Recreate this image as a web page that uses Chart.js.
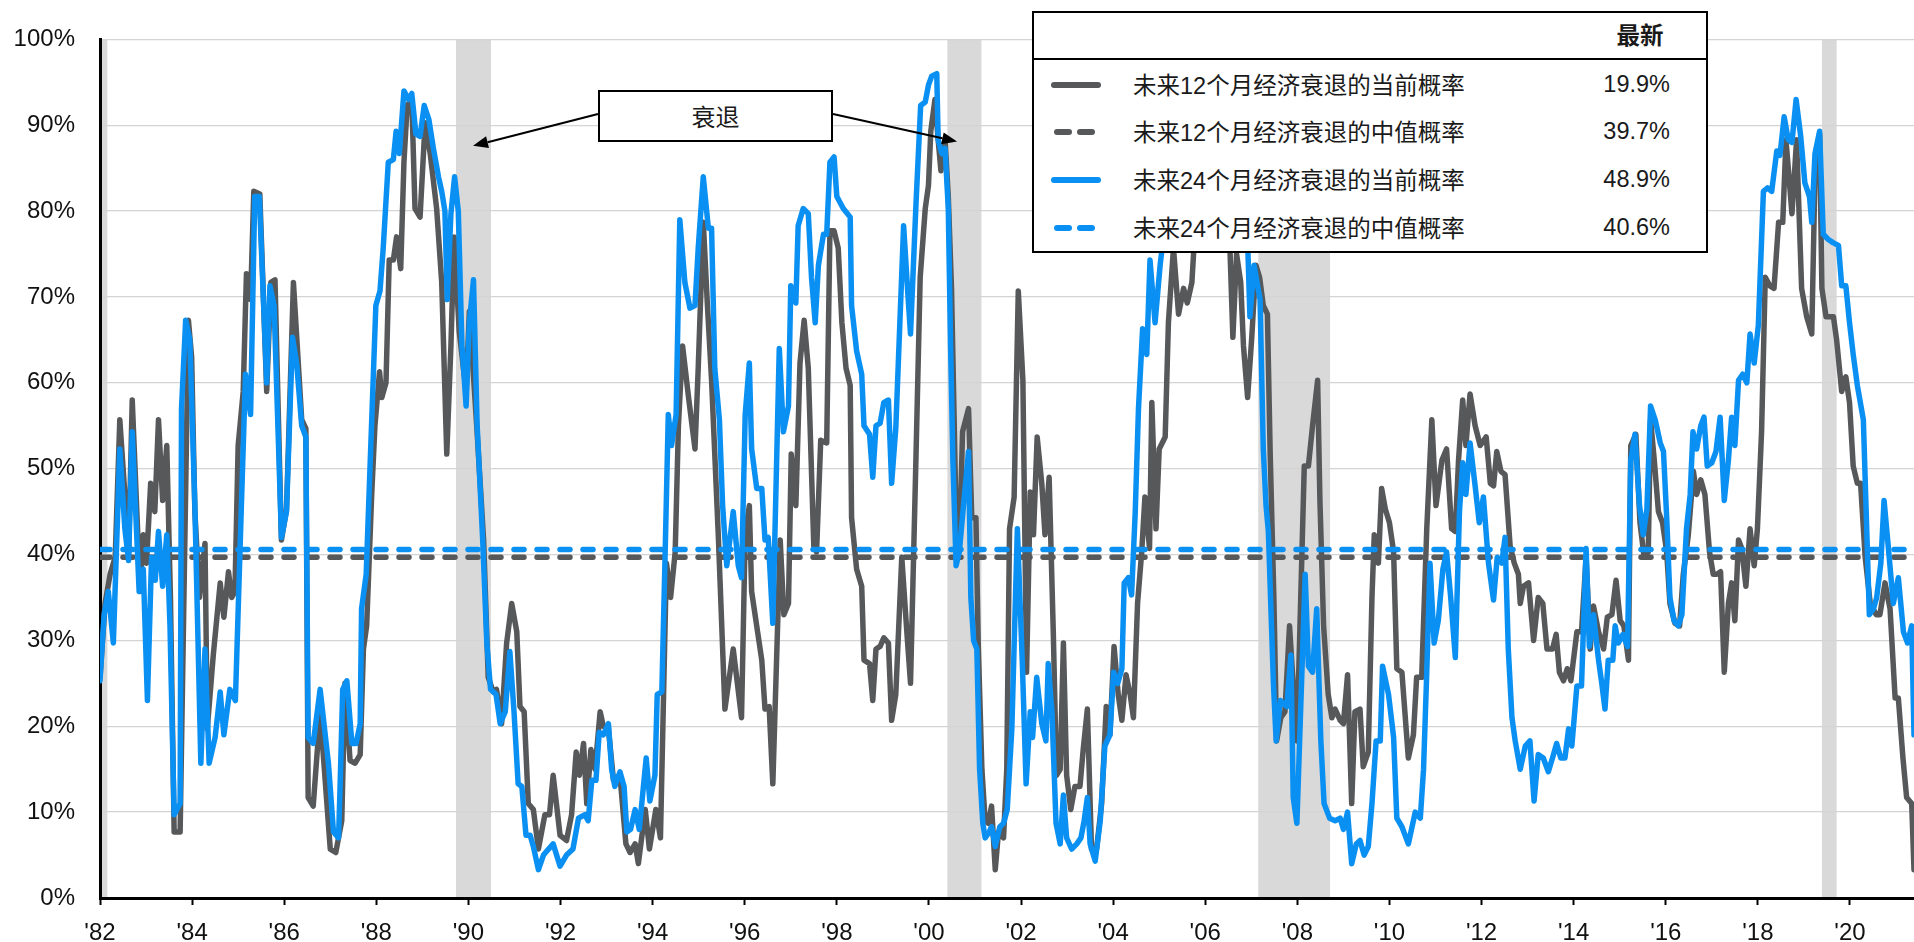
<!DOCTYPE html>
<html lang="zh">
<head>
<meta charset="utf-8">
<title>经济衰退概率</title>
<script src="https://cdn.jsdelivr.net/npm/chart.js@4.4.1/dist/chart.umd.min.js"></script>
<style>
  body { margin: 0; background: #fff; }
  #wrap { position: relative; width: 1914px; height: 942px; }
  #legend {
    position: absolute; left: 1032px; top: 11px; width: 672px; height: 238px;
    border: 2px solid #000; background: #fff; color: #1a1a1a;
    font-family: "Liberation Sans", "Noto Sans CJK SC", sans-serif; font-size: 23.5px;
  }
  #legend .head { position: absolute; left: 0; top: 0; width: 100%; height: 45px; border-bottom: 2px solid #000; }
  #legend .head span { position: absolute; left: 582px; top: 4px; width: 48px; text-align: center; font-weight: bold; }
  #legend .row { position: absolute; left: 0; width: 100%; height: 30px; }
  #legend .row .name { position: absolute; left: 99px; top: -3px; white-space: nowrap; }
  #legend .row .val { position: absolute; right: 36px; top: 1px; }
  #legend .sw { position: absolute; top: 12px; height: 6px; border-radius: 3px; }
  #tag {
    position: absolute; left: 598px; top: 90px; width: 231px; height: 48px;
    border: 2px solid #000; background: #fff; color: #1a1a1a;
    font-family: "Noto Sans CJK SC", sans-serif; font-size: 24px;
    text-align: center; line-height: 48px;
  }
</style>
</head>
<body>
<div id="wrap">
  <canvas id="recessionChart" width="1914" height="942"></canvas>
  <div id="tag">衰退</div>
  <div id="legend"><div class="head"><span>最新</span></div></div>
</div>
<script>
const baseYear = 1982;
const lastYear = 2021.39;
const tickYears = [1982, 1984, 1986, 1988, 1990, 1992, 1994, 1996, 1998, 2000,
  2002, 2004, 2006, 2008, 2010, 2012, 2014, 2016, 2018, 2020];

// recession shading, in years after '82
const recessions = [[0, 0.16], [7.73, 8.49], [18.40, 19.14], [25.15, 26.71], [37.39, 37.71]];
// where the two arrows from the "衰退" box point (years after '82, %)
const arrowTargets = [[8.10, 87.6], [18.61, 88.1]];

const seriesNames = ['未来12个月经济衰退的当前概率', '未来12个月经济衰退的中值概率',
  '未来24个月经济衰退的当前概率', '未来24个月经济衰退的中值概率'];
const latestValues = ['19.9%', '39.7%', '48.9%', '40.6%'];
const median12 = 39.7;
const median24 = 40.6;

const gray = '#57585a';
const blue = '#0a90f2';

// [years after '82, probability %]
const current12 = [
  [0,25.7],[0.11,34.3],[0.22,37.7],[0.33,39.7],[0.43,55.7],[0.54,47],[0.62,39.7],[0.70,58],[0.80,45],[0.87,35.7],
  [0.94,42.3],[1.01,39],[1.10,48.3],[1.19,45],[1.27,55.7],[1.36,46.3],[1.45,52.7],[1.53,35],[1.61,7.7],[1.74,7.7],
  [1.92,67.3],[1.99,63],[2.06,45],[2.16,35],[2.28,41.3],[2.33,19.7],[2.46,28.3],[2.61,36.7],[2.69,32.7],[2.79,38],
  [2.86,35],[2.93,35.7],[3.00,52.7],[3.11,59],[3.18,72.7],[3.27,69.7],[3.34,82.3],[3.47,82],[3.62,59],[3.71,71.7],
  [3.80,72],[3.94,41.7],[4.05,45.3],[4.20,71.7],[4.38,55.7],[4.47,54.7],[4.52,11.7],[4.63,10.7],[4.78,21.7],[5.00,5.7],
  [5.12,5.3],[5.25,9],[5.32,25],[5.43,16],[5.54,15.7],[5.65,16.7],[5.72,29],[5.79,31.7],[5.90,47],[5.97,55],
  [6.07,61.3],[6.12,58.3],[6.21,60],[6.28,74.3],[6.37,74.3],[6.44,77],[6.53,73.3],[6.60,85.7],[6.67,92.3],[6.77,93],
  [6.84,80.3],[6.95,79.3],[7.06,90.3],[7.17,86.7],[7.31,80.3],[7.42,71.7],[7.53,51.7],[7.62,64.3],[7.69,77],[7.80,66],
  [7.95,59],[8.02,68.3],[8.18,55],[8.33,41.7],[8.43,25.7],[8.54,24],[8.61,24.3],[8.72,20.3],[8.83,29.7],[8.94,34.3],
  [9.05,31],[9.12,22.3],[9.21,21.7],[9.30,11],[9.41,10.3],[9.52,5.7],[9.66,9.7],[9.76,9.7],[9.84,14.3],[9.99,7.3],
  [10.13,6.7],[10.24,9.7],[10.34,17],[10.41,14.3],[10.50,18],[10.57,11],[10.66,17.3],[10.75,15],[10.86,21.7],[10.93,20],
  [11.04,19.7],[11.15,13.7],[11.29,14.3],[11.42,6.3],[11.51,5.3],[11.62,6.3],[11.69,4],[11.84,10.3],[11.93,5.7],[12.07,10.3],
  [12.17,7],[12.30,39],[12.39,35],[12.49,40.3],[12.56,55],[12.65,64.3],[12.78,58.3],[12.92,52.3],[12.99,61.7],[13.10,78.7],
  [13.19,69],[13.28,60.3],[13.43,41.7],[13.57,22],[13.75,29],[13.93,21],[14.01,42.3],[14.10,45.7],[14.15,35.7],[14.26,31.7],
  [14.37,27.7],[14.44,22],[14.53,22.3],[14.61,13.3],[14.77,41.7],[14.85,33],[14.95,34.3],[15.01,51.7],[15.11,45.7],[15.20,62.3],
  [15.29,67.3],[15.38,61.7],[15.50,41],[15.56,40.3],[15.65,53.3],[15.78,53],[15.85,77.7],[15.94,77.7],[16.03,75.7],[16.11,67],
  [16.20,61.7],[16.29,59.7],[16.32,44.3],[16.43,38.3],[16.54,36.3],[16.59,27.7],[16.71,27.3],[16.78,23],[16.85,29],[16.94,29.3],
  [17.02,30.3],[17.12,29.7],[17.19,20.7],[17.28,23.7],[17.41,39.7],[17.52,31],[17.60,25],[17.72,51.7],[17.81,72.3],[17.92,80.3],
  [17.99,83],[18.04,89.3],[18.13,93],[18.20,88.3],[18.26,84.7],[18.35,88.3],[18.42,81.7],[18.49,71],[18.55,55],[18.60,41],
  [18.68,44.3],[18.73,54.3],[18.86,57],[18.93,44.3],[19.02,44.3],[19.07,29.7],[19.15,15],[19.22,9],[19.29,8.7],[19.36,10.7],
  [19.44,3.3],[19.51,7.7],[19.62,7],[19.69,15],[19.75,43],[19.85,46.7],[19.94,70.7],[20.04,60.3],[20.12,26.3],[20.20,47.3],
  [20.27,42.3],[20.35,53.7],[20.45,48.3],[20.52,42.3],[20.61,49],[20.70,31],[20.77,14.3],[20.85,15],[20.92,29.7],[20.99,14.3],
  [21.08,10.3],[21.17,13],[21.28,13],[21.35,17.3],[21.44,22],[21.53,5.7],[21.64,5.7],[21.75,11],[21.85,22.3],[21.93,19],
  [22.02,29.3],[22.11,23.7],[22.19,20.7],[22.28,26],[22.37,23.7],[22.44,21],[22.53,34.3],[22.62,40.3],[22.69,46.7],[22.79,40.7],
  [22.84,57.7],[22.93,43],[23.00,52.3],[23.13,53.7],[23.20,67],[23.31,75.7],[23.42,68],[23.53,71],[23.61,69.3],[23.71,71.7],
  [23.76,76.3],[23.90,82],[24.10,86],[24.30,80],[24.45,84],[24.54,75],[24.60,65.3],[24.68,75],[24.77,71.7],[24.83,64.3],
  [24.92,58.3],[25.01,65.3],[25.10,73.7],[25.18,72.3],[25.26,69],[25.35,68],[25.41,51.7],[25.49,35],[25.55,18.3],[25.64,21],
  [25.73,21.7],[25.83,31.7],[25.90,25.7],[25.99,18.3],[26.15,50.3],[26.24,50.3],[26.33,55],[26.44,60.3],[26.49,46.3],[26.57,31.7],
  [26.67,23.7],[26.75,21],[26.82,22],[26.93,20.7],[27.00,20.3],[27.09,26],[27.18,11],[27.25,21.7],[27.36,22],[27.43,15.3],
  [27.54,17],[27.62,35],[27.67,42.3],[27.76,39],[27.83,47.7],[27.91,45.3],[28.00,43.7],[28.09,40.3],[28.16,26.7],[28.27,26.3],
  [28.41,16.3],[28.52,19],[28.59,25.7],[28.70,25.7],[28.81,43],[28.92,55.7],[29.01,45.7],[29.14,51],[29.24,52.3],[29.35,43],
  [29.43,42.7],[29.50,51],[29.59,58],[29.66,52.7],[29.75,58.7],[29.86,55],[29.97,52.7],[30.10,53.7],[30.19,48.3],[30.26,48],
  [30.33,52],[30.42,49.7],[30.51,49.3],[30.62,41],[30.71,39],[30.80,37.7],[30.84,34.3],[30.91,36.3],[31.02,36.7],[31.13,30],
  [31.23,35],[31.33,34.3],[31.42,29],[31.54,29],[31.62,30.7],[31.69,26.3],[31.78,25.3],[31.86,26.7],[31.94,25.3],[32.07,31],
  [32.17,31],[32.27,39.7],[32.36,29],[32.43,34],[32.54,31],[32.65,29],[32.73,32.7],[32.83,33],[32.92,37],[33.01,32.3],
  [33.09,31.7],[33.19,27.7],[33.24,52.7],[33.35,54],[33.44,43.7],[33.53,39.7],[33.62,40.3],[33.67,55.7],[33.75,51],[33.84,45],
  [33.93,43.7],[34.02,40.3],[34.09,34.3],[34.20,32],[34.30,31.7],[34.38,37.7],[34.49,42.3],[34.60,49.7],[34.67,47],[34.76,48.7],
  [34.85,47],[34.95,40.3],[35.03,37.7],[35.11,37.7],[35.19,38],[35.27,26.3],[35.36,34.3],[35.43,36.7],[35.50,32.3],[35.58,41.7],
  [35.65,40.7],[35.74,36.3],[35.83,43],[35.92,38.7],[35.99,43],[36.08,54.3],[36.16,72.3],[36.26,71.3],[36.35,71],[36.45,78.7],
  [36.54,78.7],[36.61,88.3],[36.66,85],[36.74,79.7],[36.84,88.3],[36.95,71],[37.06,67.7],[37.17,65.7],[37.24,84.3],[37.34,89],
  [37.39,71],[37.48,67.7],[37.64,67.7],[37.71,65],[37.82,59],[37.91,60.7],[37.99,57.7],[38.07,50.3],[38.16,48.3],[38.23,48.3],
  [38.33,39.7],[38.44,34.3],[38.57,33],[38.65,33],[38.76,36.7],[38.87,33.7],[38.98,23.3],[39.05,23.3],[39.15,16.3],[39.23,11.7],
  [39.34,11],[39.39,3.3]
];

const current24 = [
  [0,25.3],[0.09,33],[0.18,35.7],[0.29,29.7],[0.43,52.3],[0.54,43],[0.62,39.3],[0.70,54.3],[0.85,35.7],[0.94,38.3],
  [1.03,23],[1.12,39.7],[1.20,37],[1.27,42.7],[1.36,36.3],[1.45,42.3],[1.52,31.7],[1.61,9.7],[1.74,11],[1.77,57],
  [1.86,67.3],[1.95,65],[2.06,45.7],[2.19,15.7],[2.28,29],[2.37,15.7],[2.50,18.7],[2.61,24],[2.69,19],[2.82,24.3],
  [2.94,23],[3.07,45.7],[3.16,61],[3.27,56.3],[3.36,81.7],[3.46,81.7],[3.62,60],[3.69,71.3],[3.78,69],[3.94,42],
  [4.05,45],[4.18,65.3],[4.27,62.3],[4.38,55],[4.47,53.7],[4.52,18.7],[4.63,18],[4.78,24.3],[4.96,15.7],[5.07,7.7],
  [5.18,7],[5.21,12.3],[5.27,24.3],[5.36,25.3],[5.47,18],[5.56,18],[5.65,20.3],[5.68,33.7],[5.78,37.7],[5.86,49.7],
  [5.99,69],[6.08,70.7],[6.15,75.7],[6.26,85.7],[6.37,86],[6.43,89.3],[6.50,86.7],[6.60,94],[6.70,93],[6.77,93.7],
  [6.86,89],[6.95,88.7],[7.04,92.3],[7.14,90.7],[7.24,87.3],[7.35,84],[7.42,82.3],[7.49,80],[7.54,69.7],[7.62,79.7],
  [7.70,84],[7.78,80],[7.86,64.3],[7.95,57.3],[8.02,67],[8.11,72],[8.19,55],[8.31,41.7],[8.40,29.7],[8.48,24.3],
  [8.60,23.7],[8.69,20.3],[8.80,21.7],[8.90,28.7],[8.99,21.7],[9.08,13.3],[9.16,13],[9.25,7.3],[9.34,7.3],[9.41,6],
  [9.52,3.3],[9.63,5],[9.74,5.7],[9.84,6.3],[9.99,3.7],[10.13,5],[10.27,5.7],[10.39,9.3],[10.53,9.7],[10.60,9],
  [10.68,13.7],[10.77,13.7],[10.84,19.3],[10.93,19],[11.04,20.3],[11.11,15],[11.18,13],[11.29,14.7],[11.38,13],[11.44,7.7],
  [11.52,8],[11.62,10.3],[11.71,8],[11.86,16.3],[11.94,11.3],[12.05,14.3],[12.10,23.7],[12.20,24],[12.27,39.7],[12.34,56.3],
  [12.41,52.7],[12.51,56.3],[12.59,79],[12.70,71.7],[12.81,68.7],[12.92,69],[12.99,75.7],[13.10,84],[13.21,78],[13.28,78],
  [13.35,61.7],[13.45,55.7],[13.52,45.7],[13.61,38.7],[13.75,45],[13.86,38.7],[13.93,37.3],[14.01,56.3],[14.10,62.3],[14.15,52.3],
  [14.26,47.7],[14.37,47.7],[14.44,41.7],[14.51,42],[14.61,32],[14.75,64],[14.84,54.3],[14.95,57.3],[15.00,71.3],[15.11,69.3],
  [15.16,78.3],[15.27,80.3],[15.38,79.7],[15.45,72.3],[15.53,67],[15.60,73.7],[15.71,77.3],[15.78,77.3],[15.85,85.7],[15.94,86.3],
  [16.00,81.7],[16.14,80.3],[16.29,79.3],[16.32,69],[16.43,63.7],[16.54,61],[16.59,55],[16.71,54],[16.78,49],[16.85,55],
  [16.94,55.3],[17.02,57.7],[17.12,58],[17.19,48.3],[17.28,54.7],[17.45,78.3],[17.55,69.7],[17.60,65.7],[17.72,81],[17.82,92.3],
  [17.92,92.7],[17.99,94.7],[18.06,95.7],[18.17,96],[18.20,88.3],[18.28,86.7],[18.35,87.3],[18.42,80.3],[18.47,64.3],[18.52,51],
  [18.59,38.7],[18.66,40.3],[18.75,45.7],[18.86,52],[18.91,35],[18.97,30],[19.04,29],[19.10,15],[19.17,8.7],[19.22,7],
  [19.31,7.7],[19.36,8.3],[19.44,6],[19.54,8.3],[19.62,8.7],[19.70,10.3],[19.80,19.7],[19.92,43],[20.03,27],[20.11,13.3],
  [20.20,21.7],[20.25,18.7],[20.34,25.7],[20.45,20.3],[20.54,18.3],[20.59,27.3],[20.67,21.7],[20.76,8.7],[20.85,6.3],[20.92,12],
  [20.99,7],[21.10,5.7],[21.21,6.3],[21.30,7],[21.37,9],[21.44,11.7],[21.50,6.3],[21.61,4.3],[21.72,9],[21.82,17.7],
  [21.93,19],[22.01,26.3],[22.10,25],[22.19,26.7],[22.24,36.7],[22.33,37.3],[22.40,35.3],[22.48,45],[22.55,57],[22.64,66.3],
  [22.73,63.3],[22.80,74.3],[22.91,67],[23.02,73.7],[23.20,82],[23.50,86],[23.80,90],[24.10,88],[24.40,92],[24.70,85],
  [24.90,80],[24.97,67.7],[25.06,73.7],[25.19,69.7],[25.26,52.3],[25.32,45.7],[25.37,42.7],[25.48,25],[25.54,18.3],[25.63,23],
  [25.77,22.3],[25.86,28.3],[25.91,11.7],[25.99,8.7],[26.07,21.7],[26.17,37.7],[26.24,27],[26.33,26.3],[26.42,33.7],[26.51,18.3],
  [26.58,11],[26.70,9.3],[26.82,9],[26.93,9.3],[27.00,8],[27.09,10],[27.18,4],[27.28,6.3],[27.36,6.7],[27.45,5],
  [27.54,6],[27.62,11],[27.71,18.3],[27.80,18.3],[27.85,27],[27.98,23.7],[28.09,18.7],[28.16,9.3],[28.27,8.3],[28.41,6.3],
  [28.56,10],[28.67,9.3],[28.74,15],[28.81,26.3],[28.88,39],[28.97,29.7],[29.06,32.3],[29.16,38.3],[29.24,40.3],[29.33,35],
  [29.43,28],[29.52,45],[29.59,50.7],[29.66,47],[29.75,53],[29.86,48],[29.95,43.7],[30.04,46.7],[30.15,39],[30.26,34.7],
  [30.34,39.7],[30.44,39],[30.51,42],[30.58,29],[30.66,21],[30.73,18.3],[30.84,15],[30.95,17.7],[31.05,18.3],[31.14,11.3],
  [31.23,16.7],[31.34,16.3],[31.45,14.7],[31.54,16.3],[31.63,18],[31.72,16.3],[31.81,16.3],[31.89,19.7],[31.96,17.7],[32.07,24.7],
  [32.17,24.7],[32.27,40.7],[32.34,29.3],[32.43,33],[32.54,27.7],[32.61,25],[32.68,22],[32.75,27.7],[32.85,27.7],[32.90,31.7],
  [32.97,29.7],[33.07,30.7],[33.17,29.3],[33.24,51],[33.33,54],[33.43,45.7],[33.51,42.3],[33.59,45.3],[33.67,57.3],[33.77,55.7],
  [33.88,53],[33.95,52],[34.02,44.3],[34.09,35],[34.18,32.3],[34.27,31.7],[34.35,33],[34.45,43],[34.53,47],[34.59,54.3],
  [34.67,52.3],[34.76,55],[34.83,56],[34.90,50.3],[35.00,50.7],[35.09,52],[35.18,56],[35.27,46.3],[35.36,51],[35.43,56],
  [35.50,52.7],[35.58,60.3],[35.67,61],[35.76,60],[35.83,65.7],[35.92,62.3],[36.01,66.7],[36.12,82.3],[36.21,82.7],[36.30,82.3],
  [36.41,87],[36.48,86.5],[36.57,91],[36.66,88.3],[36.74,88],[36.83,93],[36.93,88.7],[37.02,83.3],[37.12,81.7],[37.17,78.7],
  [37.24,86.7],[37.34,89.3],[37.42,77.3],[37.53,76.7],[37.64,76.3],[37.75,76],[37.82,71.3],[37.91,71.3],[37.99,67],[38.07,63.3],
  [38.16,59.7],[38.29,55.7],[38.35,45.3],[38.42,33],[38.51,33.7],[38.58,35],[38.67,39],[38.74,46.3],[38.83,41],[38.94,34.3],
  [39.05,37.3],[39.16,31],[39.25,29.7],[39.34,31.7],[39.39,19]
];

const toPoints = series => series.map(([t, v]) => ({x: baseYear + t, y: v}));
const flatLine = v => [{x: baseYear, y: v}, {x: lastYear, y: v}];

// legend rows
const swatches = [
  {color: gray, dashed: false}, {color: gray, dashed: true},
  {color: blue, dashed: false}, {color: blue, dashed: true}
];
const rowTops = [57, 104, 152, 200];
const legend = document.getElementById('legend');
seriesNames.forEach((name, i) => {
  const row = document.createElement('div');
  row.className = 'row';
  row.style.top = rowTops[i] + 'px';
  const sw = swatches[i];
  let swHtml;
  if (sw.dashed) {
    swHtml = `<div class="sw" style="left:20px;width:18px;background:${sw.color}"></div>` +
             `<div class="sw" style="left:43px;width:18px;background:${sw.color}"></div>`;
  } else {
    swHtml = `<div class="sw" style="left:17px;width:50px;background:${sw.color}"></div>`;
  }
  row.innerHTML = swHtml + `<span class="name">${name}</span><span class="val">${latestValues[i]}</span>`;
  legend.appendChild(row);
});

const recessionShading = {
  id: 'recessionShading',
  beforeDraw(chart) {
    const {ctx, chartArea, scales} = chart;
    ctx.save();
    ctx.fillStyle = '#d9d9d9';
    recessions.forEach(([a, b]) => {
      const x1 = scales.x.getPixelForValue(baseYear + a);
      const x2 = scales.x.getPixelForValue(baseYear + b);
      ctx.fillRect(x1, chartArea.top, x2 - x1, chartArea.bottom - chartArea.top);
    });
    ctx.restore();
  }
};

const recessionArrows = {
  id: 'recessionArrows',
  afterDraw(chart) {
    const {ctx, scales} = chart;
    const tag = document.getElementById('tag');
    const left = tag.offsetLeft, right = left + tag.offsetWidth;
    const midY = tag.offsetTop + tag.offsetHeight / 2 - 2;
    const tails = [[left, midY], [right, midY]];
    ctx.save();
    ctx.strokeStyle = '#000';
    ctx.fillStyle = '#000';
    ctx.lineWidth = 2;
    arrowTargets.forEach(([t, v], i) => {
      const hx = scales.x.getPixelForValue(baseYear + t);
      const hy = scales.y.getPixelForValue(v);
      const [tx, ty] = tails[i];
      const ang = Math.atan2(hy - ty, hx - tx);
      const len = 15, half = 6;
      const bx = hx - len * Math.cos(ang), by = hy - len * Math.sin(ang);
      ctx.beginPath();
      ctx.moveTo(tx, ty);
      ctx.lineTo(bx, by);
      ctx.stroke();
      ctx.beginPath();
      ctx.moveTo(hx, hy);
      ctx.lineTo(bx + half * Math.sin(ang), by - half * Math.cos(ang));
      ctx.lineTo(bx - half * Math.sin(ang), by + half * Math.cos(ang));
      ctx.closePath();
      ctx.fill();
    });
    ctx.restore();
  }
};

Chart.defaults.font.family = '"Liberation Sans", Arial, sans-serif';
Chart.defaults.font.size = 24;
Chart.defaults.color = '#111';

const lineStyle = {
  pointRadius: 0,
  borderWidth: 5.5,
  tension: 0,
  fill: false,
  borderJoinStyle: 'round',
  borderCapStyle: 'round'
};

new Chart(document.getElementById('recessionChart'), {
  type: 'line',
  data: {
    datasets: [
      {label: seriesNames[0], data: toPoints(current12), borderColor: gray, order: 3, ...lineStyle},
      {label: seriesNames[1], data: flatLine(median12), borderColor: gray, order: 2, ...lineStyle, borderDash: [10, 13]},
      {label: seriesNames[2], data: toPoints(current24), borderColor: blue, order: 1, ...lineStyle},
      {label: seriesNames[3], data: flatLine(median24), borderColor: blue, order: 0, ...lineStyle, borderDash: [10, 13]}
    ]
  },
  options: {
    responsive: false,
    animation: false,
    layout: {padding: {top: 35, right: 0, left: 0, bottom: 0}},
    plugins: {legend: {display: false}, tooltip: {enabled: false}},
    scales: {
      x: {
        type: 'linear',
        min: baseYear,
        max: lastYear,
        afterBuildTicks: scale => { scale.ticks = tickYears.map(v => ({value: v})); },
        afterFit: scale => { scale.height = 44; },
        ticks: {
          autoSkip: false,
          maxRotation: 0,
          padding: 14,
          callback: v => "'" + String(v).slice(2)
        },
        grid: {drawOnChartArea: false, drawTicks: true, tickLength: 7, tickColor: '#000', tickWidth: 2},
        border: {color: '#000', width: 3}
      },
      y: {
        min: 0,
        max: 100,
        afterFit: scale => { scale.width = 100; },
        ticks: {stepSize: 10, padding: 25, callback: v => v + '%'},
        grid: {color: '#d4d4d4', lineWidth: 1.3, drawTicks: false},
        border: {color: '#000', width: 3}
      }
    }
  },
  plugins: [recessionShading, recessionArrows]
});
</script>
</body>
</html>
